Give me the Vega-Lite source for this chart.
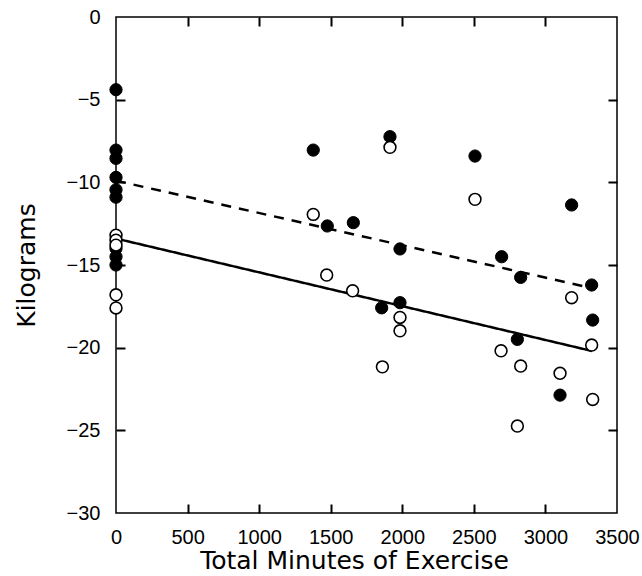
{
  "$schema": "https://vega.github.io/schema/vega-lite/v6.json",
  "width": 501,
  "height": 496,
  "autosize": {"type": "none"},
  "padding": {"left": 116, "top": 17, "right": 25, "bottom": 63},
  "background": "white",
  "config": {
    "view": {"stroke": "black", "strokeWidth": 1.5},
    "font": "Liberation Sans",
    "axis": {
      "grid": false,
      "domain": false,
      "ticks": true,
      "tickColor": "black",
      "tickWidth": 2,
      "tickSize": 9,
      "labelColor": "black",
      "titleColor": "black",
      "labelFont": "Liberation Sans",
      "titleFont": "DejaVu Sans",
      "labelFontSize": 20,
      "titleFontSize": 25,
      "titleFontWeight": "normal",
      "labelFlush": false,
      "labelOverlap": false,
      "format": "d",
      "zindex": 1
    }
  },
  "datasets": {
    "pts": [
      {"minutes": 0, "kg": -4.4, "group": "filled"},
      {"minutes": 0, "kg": -8.05, "group": "filled"},
      {"minutes": 0, "kg": -8.55, "group": "filled"},
      {"minutes": 0, "kg": -9.7, "group": "filled"},
      {"minutes": 0, "kg": -10.45, "group": "filled"},
      {"minutes": 0, "kg": -10.9, "group": "filled"},
      {"minutes": 0, "kg": -14.0, "group": "filled"},
      {"minutes": 0, "kg": -14.5, "group": "filled"},
      {"minutes": 0, "kg": -15.0, "group": "filled"},
      {"minutes": 1378, "kg": -8.05, "group": "filled"},
      {"minutes": 1914, "kg": -7.24, "group": "filled"},
      {"minutes": 2508, "kg": -8.41, "group": "filled"},
      {"minutes": 1476, "kg": -12.64, "group": "filled"},
      {"minutes": 1658, "kg": -12.44, "group": "filled"},
      {"minutes": 1984, "kg": -14.03, "group": "filled"},
      {"minutes": 2694, "kg": -14.5, "group": "filled"},
      {"minutes": 1856, "kg": -17.59, "group": "filled"},
      {"minutes": 1984, "kg": -17.28, "group": "filled"},
      {"minutes": 2827, "kg": -15.75, "group": "filled"},
      {"minutes": 3323, "kg": -16.21, "group": "filled"},
      {"minutes": 3330, "kg": -18.33, "group": "filled"},
      {"minutes": 2804, "kg": -19.5, "group": "filled"},
      {"minutes": 3102, "kg": -22.87, "group": "filled"},
      {"minutes": 3183, "kg": -11.37, "group": "filled"},
      {"minutes": 0, "kg": -13.2, "group": "open"},
      {"minutes": 0, "kg": -13.5, "group": "open"},
      {"minutes": 0, "kg": -13.8, "group": "open"},
      {"minutes": 0, "kg": -16.8, "group": "open"},
      {"minutes": 0, "kg": -17.6, "group": "open"},
      {"minutes": 1914, "kg": -7.88, "group": "open"},
      {"minutes": 2508, "kg": -11.03, "group": "open"},
      {"minutes": 1378, "kg": -11.94, "group": "open"},
      {"minutes": 1472, "kg": -15.61, "group": "open"},
      {"minutes": 1653, "kg": -16.56, "group": "open"},
      {"minutes": 1984, "kg": -18.17, "group": "open"},
      {"minutes": 1984, "kg": -18.98, "group": "open"},
      {"minutes": 1861, "kg": -21.16, "group": "open"},
      {"minutes": 3183, "kg": -16.98, "group": "open"},
      {"minutes": 3323, "kg": -19.84, "group": "open"},
      {"minutes": 2690, "kg": -20.19, "group": "open"},
      {"minutes": 2827, "kg": -21.11, "group": "open"},
      {"minutes": 3102, "kg": -21.55, "group": "open"},
      {"minutes": 3330, "kg": -23.13, "group": "open"},
      {"minutes": 2804, "kg": -24.74, "group": "open"}
    ],
    "fits": [
      {"minutes": 0, "kg": -9.9, "fit": "dashed"},
      {"minutes": 3325, "kg": -16.4, "fit": "dashed"},
      {"minutes": 0, "kg": -13.4, "fit": "solid"},
      {"minutes": 3325, "kg": -20.2, "fit": "solid"}
    ]
  },
  "resolve": {"axis": {"x": "independent", "y": "independent"}},
  "layer": [
    {
      "data": {"name": "fits"},
      "mark": {"type": "line", "color": "black", "strokeWidth": 2.5},
      "encoding": {
        "x": {"field": "minutes", "type": "quantitative", "scale": {"domain": [0, 3500], "nice": false, "zero": false},
          "axis": {"orient": "bottom", "values": [0, 500, 1000, 1500, 2000, 2500, 3000, 3500], "ticks": false, "tickSize": 0, "labelPadding": 14, "title": "Total Minutes of Exercise", "titlePadding": 1, "titleX": 238}},
        "y": {"field": "kg", "type": "quantitative", "scale": {"domain": [-30, 0], "nice": false, "zero": false},
          "axis": {"orient": "left", "values": [0, -5, -10, -15, -20, -25, -30], "ticks": false, "tickSize": 0, "labelPadding": 16, "title": "Kilograms", "titlePadding": 27}},
        "detail": {"field": "fit"},
        "strokeDash": {"field": "fit", "type": "nominal", "scale": {"domain": ["solid", "dashed"], "range": [[1, 0], [10, 8]]}, "legend": null}
      }
    },
    {
      "data": {"name": "pts"},
      "transform": [{"filter": "datum.group === 'filled'"}],
      "mark": {"type": "point", "shape": "circle", "filled": true, "fill": "black", "stroke": "black", "strokeWidth": 1, "size": 150, "opacity": 1},
      "encoding": {
        "x": {"field": "minutes", "type": "quantitative",
          "axis": {"orient": "top", "offset": -496, "values": [500, 1000, 1500, 2000, 2500, 3000], "labels": false, "title": null}},
        "y": {"field": "kg", "type": "quantitative",
          "axis": {"orient": "right", "offset": -501, "values": [-5, -10, -15, -20, -25], "labels": false, "title": null}}
      }
    },
    {
      "data": {"name": "pts"},
      "transform": [{"filter": "datum.group === 'open'"}],
      "mark": {"type": "point", "shape": "circle", "filled": false, "fill": "white", "stroke": "black", "strokeWidth": 1.6, "size": 140, "opacity": 1},
      "encoding": {
        "x": {"field": "minutes", "type": "quantitative",
          "axis": {"orient": "bottom", "offset": -496, "values": [500, 1000, 1500, 2000, 2500, 3000], "labels": false, "title": null}},
        "y": {"field": "kg", "type": "quantitative",
          "axis": {"orient": "left", "offset": -501, "values": [-5, -10, -15, -20, -25], "labels": false, "title": null}}
      }
    }
  ]
}
